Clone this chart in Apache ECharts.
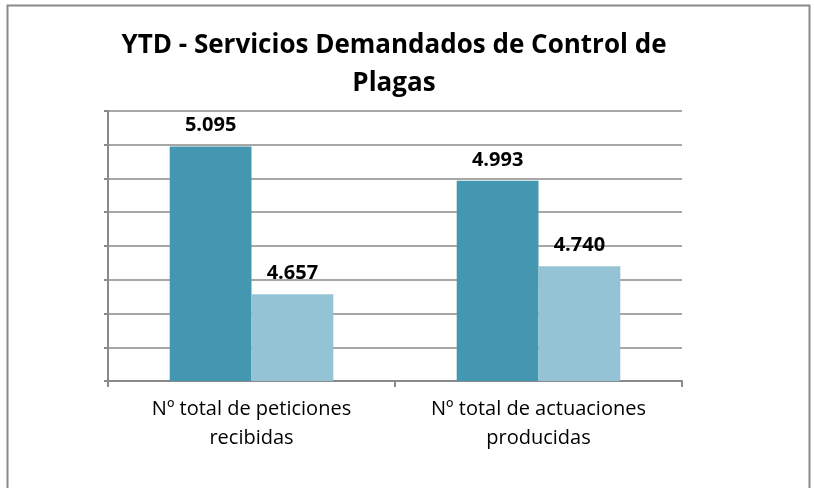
<!DOCTYPE html>
<html>
<head>
<meta charset="utf-8">
<script src="https://cdn.jsdelivr.net/npm/echarts@6/dist/echarts.min.js"></script>
<style>
  html, body { margin: 0; padding: 0; background: #fff; }
  #chart { width: 814px; height: 488px; }
</style>
</head>
<body>
<div id="chart"></div>
<script>
// Data
var categories = ['Nº total de peticiones\nrecibidas', 'Nº total de actuaciones\nproducidas'];
var serieA = [5.095, 4.993];
var serieB = [4.657, 4.740];

var chart = echarts.init(document.getElementById('chart'));

var labelStyle = {
    show: true,
    position: 'top',
    distance: 11,
    fontFamily: 'Open Sans, sans-serif',
    fontSize: 20,
    fontWeight: 'bold',
    color: '#000',
    formatter: function (p) { return p.value.toFixed(3); }
};

chart.setOption({
    animation: false,
    backgroundColor: '#fff',
    graphic: [{
        type: 'rect',
        shape: { x: 7.5, y: 5.5, width: 802, height: 500 },
        style: { fill: 'none', stroke: '#8a8a8a', lineWidth: 2 },
        z: -1
    }],
    title: {
        text: 'YTD - Servicios Demandados de Control de\nPlagas',
        left: 389,
        textAlign: 'center',
        top: 22,
        textStyle: {
            fontFamily: 'Open Sans, sans-serif',
            fontSize: 26,
            fontWeight: 'bold',
            color: '#000',
            lineHeight: 38
        }
    },
    grid: { left: 108, right: 132, top: 111, bottom: 107 },
    xAxis: {
        type: 'category',
        data: categories,
        axisLine: { lineStyle: { color: '#8a8a8a', width: 2 } },
        axisTick: { show: true, length: 6, lineStyle: { color: '#8a8a8a', width: 2 } },
        axisLabel: {
            fontFamily: 'Open Sans, sans-serif',
            fontSize: 20,
            color: '#000',
            lineHeight: 29,
            margin: 14
        }
    },
    yAxis: {
        type: 'value',
        min: 4.4,
        max: 5.2,
        interval: 0.1,
        axisLine: { show: true, lineStyle: { color: '#8a8a8a', width: 2 } },
        axisTick: { show: true, length: 4, lineStyle: { color: '#8a8a8a', width: 2 } },
        axisLabel: { show: false },
        splitLine: { lineStyle: { color: '#8a8a8a', width: 1.5 } }
    },
    series: [
        {
            type: 'bar',
            data: serieA,
            barGap: '0%',
            barCategoryGap: '43%',
            itemStyle: { color: '#4397b0' },
            label: labelStyle
        },
        {
            type: 'bar',
            data: serieB,
            itemStyle: { color: '#93c3d5' },
            label: labelStyle
        }
    ]
});

window.addEventListener('resize', function () { chart.resize(); });
</script>
</body>
</html>
